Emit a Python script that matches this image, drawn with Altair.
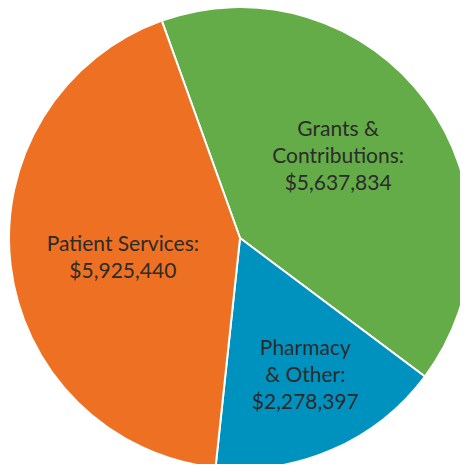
import altair as alt
import pandas as pd
import math

categories = ["Grants & Contributions", "Pharmacy & Other", "Patient Services"]
values = [5637834, 2278397, 5925440]
label_lines = [
    ["Grants &", "Contributions:", "$5,637,834"],
    ["Pharmacy", "& Other:", "$2,278,397"],
    ["Patient Services:", "$5,925,440"],
]
colors = ["#64AC47", "#0092BF", "#EE7023"]

df = pd.DataFrame({
    "category": categories,
    "value": values,
    "order": list(range(len(categories))),
    "label": ["\n".join(l) for l in label_lines],
})

total = sum(values)
start = math.radians(340.2)
theta_scale = alt.Scale(domain=[0, total], range=[start, start + 2 * math.pi], nice=False)

CX, CY, R = 232, 230, 231

base = alt.Chart(df).transform_stack(
    stack="value", as_=["v0", "v1"], groupby=[], sort=[alt.SortField("order")]
).transform_calculate(mid="(datum.v0 + datum.v1) / 2")

arcs = base.mark_arc(radius=R, stroke="white", strokeWidth=2).encode(
    x=alt.value(CX),
    y=alt.value(CY),
    theta=alt.Theta("v0:Q", scale=theta_scale),
    theta2="v1:Q",
    color=alt.Color("category:N", scale=alt.Scale(domain=categories, range=colors), legend=None),
)

label_pos = [(127, -4, -32), (151, 5, -27), (119, 1, -7)]
texts = []
for cat, (r, ddx, ddy) in zip(categories, label_pos):
    texts.append(
        base.transform_filter(alt.datum.category == cat)
        .mark_text(radius=r, dx=ddx, dy=ddy, font="Lato", fontSize=21, lineHeight=27,
                   lineBreak="\n", color="#2b2b2b", align="center", baseline="middle")
        .encode(x=alt.value(CX), y=alt.value(CY),
                theta=alt.Theta("mid:Q", scale=theta_scale), text="label:N")
    )

chart = alt.layer(arcs, *texts).properties(
    width=452, height=456, padding=0, autosize=alt.AutoSizeParams(type="none")
).configure_view(stroke=None)

chart.save("out.html", embed_options={"renderer": "svg", "actions": False})
